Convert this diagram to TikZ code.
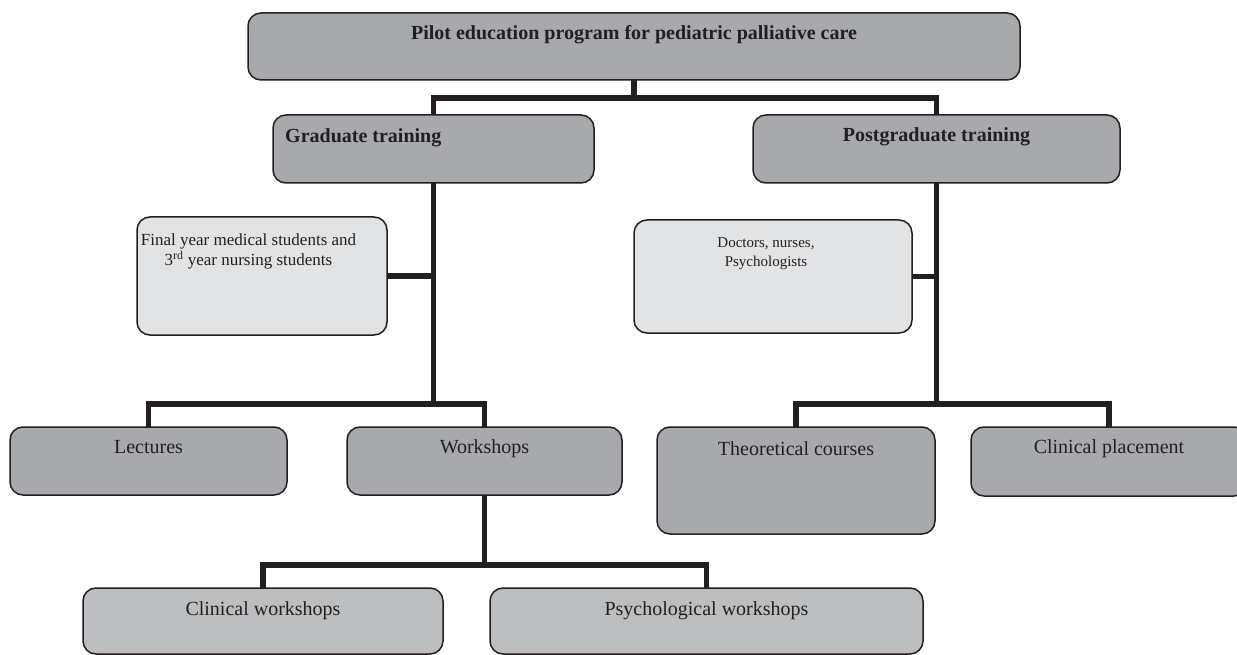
\documentclass[tikz,border=0pt]{standalone}
\usepackage{fontspec}
\setmainfont{Liberation Serif}
\definecolor{ink}{HTML}{231F20}
\definecolor{darkbox}{HTML}{A7A9AC}
\definecolor{lightbox}{HTML}{E2E3E4}
\definecolor{midbox}{HTML}{BCBEC0}
\begin{document}
\begin{tikzpicture}[x=1pt,y=-1pt,
  boxbase/.style={draw=ink, line width=1.5pt, rounded corners=13pt, inner sep=0pt, outer sep=0pt},
  darkb/.style={boxbase, fill=darkbox},
  lightb/.style={boxbase, fill=lightbox},
  midb/.style={boxbase, fill=midbox},
  conn/.style={draw=ink, line width=5.8pt, line join=miter},
  big/.style={inner sep=0pt, text=ink, font=\fontsize{20}{24}\selectfont},
  small/.style={inner sep=0pt, text=ink, align=center},
]
\useasboundingbox (0,0) rectangle (1237,655);
\fill[white] (0,0) rectangle (1237,655);

% boxes
\node[darkb, minimum width=772pt, minimum height=67pt] (top) at (634,46.5) {};
\node[darkb, minimum width=321pt, minimum height=68pt] (grad) at (433.5,149) {};
\node[darkb, minimum width=367pt, minimum height=68pt] (post) at (936.5,149) {};
\node[lightb, minimum width=250pt, minimum height=118pt] (final) at (262,276) {};
\node[lightb, minimum width=278pt, minimum height=113pt] (doc) at (773,276.5) {};
\node[darkb, minimum width=277pt, minimum height=68pt] (lect) at (148.5,461) {};
\node[darkb, minimum width=275pt, minimum height=68pt] (work) at (484.5,461) {};
\node[darkb, minimum width=278pt, minimum height=107pt] (theor) at (796,480.5) {};
\node[darkb, minimum width=276pt, minimum height=69pt] (clinp) at (1109,461.5) {};
\node[midb, minimum width=360pt, minimum height=66pt] (clinw) at (263,621) {};
\node[midb, minimum width=433pt, minimum height=66pt] (psyw) at (706.5,621) {};

% connectors
\draw[conn] (top.south) -- ++(0,18) -| (grad.north);
\draw[conn] (top.south) -- ++(0,18) -| (post.north);
\draw[conn] (grad.south) -- ++(0,221) -| (lect.north);
\draw[conn] (grad.south) -- ++(0,221) -| (work.north);
\draw[conn] (final.east) -- (final.east -| grad.south);
\draw[conn] (post.south) -- ++(0,221) -| (theor.north);
\draw[conn] (post.south) -- ++(0,221) -| (clinp.north);
\draw[conn] (doc.east) -- (doc.east -| post.south);
\draw[conn] (work.south) -- ++(0,70) -| (clinw.north);
\draw[conn] (work.south) -- ++(0,70) -| (psyw.north);

% texts
\node[big, anchor=base] (toptxt) at (634,40) {\bfseries Pilot education program for pediatric palliative care};
\node[big, anchor=base west] (gradtxt) at (285,143) {\bfseries Graduate training};
\node[big, anchor=base] (posttxt) at (936.5,142) {\bfseries Postgraduate training};
\node[small, font=\fontsize{17}{20}\selectfont, anchor=north] (finaltxt) at (248.5,233.5) {Final year medical students and\\3\textsuperscript{rd} year nursing students};
\node[small, font=\fontsize{15}{19}\selectfont, anchor=north] (doctxt) at (766,237.7) {Doctors, nurses,\\Psychologists};
\node[big, anchor=base] (lecttxt) at (148.5,453) {Lectures};
\node[big, anchor=base] (worktxt) at (484.5,453) {Workshops};
\node[big, anchor=base] (theortxt) at (796,455) {Theoretical courses};
\node[big, anchor=base] (clinptxt) at (1109,453) {Clinical placement};
\node[big, anchor=base] (clinwtxt) at (263,615) {Clinical workshops};
\node[big, anchor=base] (psywtxt) at (706.5,615) {Psychological workshops};
\end{tikzpicture}
\end{document}
